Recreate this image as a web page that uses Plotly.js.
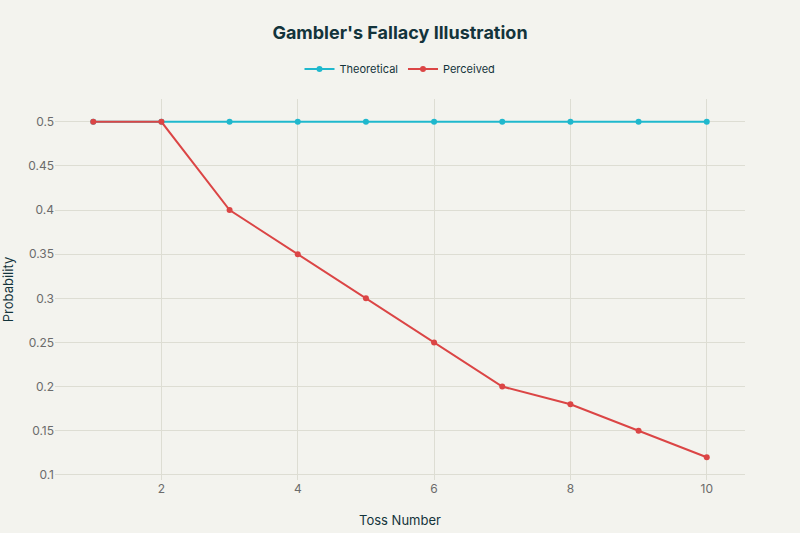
<!DOCTYPE html>
<html>
<head>
<meta charset="utf-8">
<script src="https://cdn.plot.ly/plotly-3.0.1.min.js"></script>
<style>
  html, body { margin: 0; padding: 0; background: #F3F3EE; }
  #chart { width: 800px; height: 533px; }
</style>
</head>
<body>
<div id="chart"></div>
<script>
// Gambler's fallacy: true vs perceived probability per toss
var tosses = [1, 2, 3, 4, 5, 6, 7, 8, 9, 10];
var theoretical = [0.5, 0.5, 0.5, 0.5, 0.5, 0.5, 0.5, 0.5, 0.5, 0.5];
var perceived = [0.5, 0.5, 0.4, 0.35, 0.3, 0.25, 0.2, 0.18, 0.15, 0.12];

var COL = {
  cyan: '#1FB8CD',
  red: '#DB4545',
  ink: '#13343B',
  tick: '#6B6B6B',
  grid: '#DDDDD3',
  bg: '#F3F3EE'
};

var traces = [
  {
    type: 'scatter', mode: 'lines+markers',
    name: 'Theoretical',
    x: tosses, y: theoretical,
    line: { color: COL.cyan, width: 2 },
    marker: { color: COL.cyan, size: 6 }
  },
  {
    type: 'scatter', mode: 'lines+markers',
    name: 'Perceived',
    x: tosses, y: perceived,
    line: { color: COL.red, width: 2 },
    marker: { color: COL.red, size: 6 }
  }
];

var layout = {
  width: 800, height: 533,
  paper_bgcolor: COL.bg,
  plot_bgcolor: COL.bg,
  font: { family: 'Inter, sans-serif', color: COL.ink, size: 12 },
  margin: { l: 55, r: 55, t: 99, b: 53 },
  title: {
    text: "<b>Gambler's Fallacy Illustration</b>",
    x: 0.5, xanchor: 'center', y: 0.938, yanchor: 'middle',
    font: { size: 18, color: COL.ink }
  },
  showlegend: true,
  legend: {
    orientation: 'h', x: 0.5, xanchor: 'center', y: 1.079, yanchor: 'middle',
    font: { size: 11, color: COL.ink }, bgcolor: 'rgba(0,0,0,0)',
    itemwidth: 30
  },
  xaxis: {
    title: { text: 'Toss Number', font: { size: 13, color: COL.ink }, standoff: 20 },
    gridcolor: COL.grid, zeroline: false, showline: false,
    tickfont: { color: COL.tick, size: 12 },
    dtick: 2, ticks: ''
  },
  yaxis: {
    title: { text: 'Probability', font: { size: 13, color: COL.ink }, standoff: 12 },
    gridcolor: COL.grid, zeroline: false, showline: false,
    tickfont: { color: COL.tick, size: 12 },
    dtick: 0.05, ticks: ''
  }
};

Plotly.newPlot('chart', traces, layout, { displayModeBar: false, staticPlot: true });
</script>
</body>
</html>
